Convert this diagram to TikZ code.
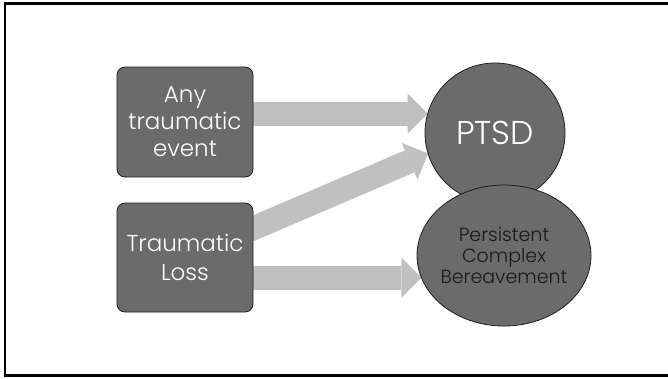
\documentclass[tikz,border=0pt]{standalone}
\usepackage{fontspec}
\setmainfont{Poppins}[UprightFont=* Light]
\usepackage{xcolor}
\usetikzlibrary{arrows.meta, positioning, shapes.geometric, backgrounds}

\definecolor{boxgray}{HTML}{6B6B6B}
\definecolor{arrowgray}{HTML}{C0C0C0}
\definecolor{edgedark}{HTML}{1E1E1E}

\begin{document}
\begin{tikzpicture}[
    x=1pt, y=-1pt,
    node distance=26pt and 0pt,
    every node/.style={outer sep=0pt},
    cause/.style={draw=edgedark, line width=0.8pt, fill=boxgray, rounded corners=8pt, align=center,
      minimum width=136pt, minimum height=110pt, inner sep=0pt, text=white,
      font=\fontsize{23}{27}\selectfont},
    ptsdcirc/.style={circle, draw=edgedark, line width=0.8pt, fill=boxgray, minimum size=140pt,
      inner sep=0pt, text=white, font=\fontsize{33}{36}\selectfont},
    grief/.style={ellipse, draw=edgedark, line width=0.8pt, fill=boxgray, minimum width=174pt,
      minimum height=141pt, inner xsep=-3pt, inner ysep=0pt, align=center, text=black!90,
      font=\fontsize{19}{21}\selectfont},
    blockarrow/.style={draw=arrowgray, line width=24pt,
      -{Triangle[length=20pt, width=40pt, line width=0pt]}}
  ]
    \useasboundingbox (0,0) rectangle (668,378);
    \draw[line width=2.5pt] (668,3.7) -| (5,375.5) -- (668,375.5);

    \node[cause] (anyevent) at (185,122) {Any\\traumatic\\event};
    \node[cause, below=of anyevent, minimum height=109pt, font=\fontsize{23}{29}\selectfont] (loss) {Traumatic\\Loss};
    \node[ptsdcirc] (ptsd) at (495,133) {PTSD};
    \node[grief] (pcb) at (504,255.5) {Persistent\\Complex\\Bereavement};

    \begin{pgfonlayer}{background}
      \draw[blockarrow] (anyevent.center |- ptsd.164) -- (ptsd.164);
      \draw[blockarrow] (loss.center) -- (ptsd.197);
      \draw[blockarrow] (loss.center |- pcb.195) -- (pcb.195);
    \end{pgfonlayer}
  \end{tikzpicture}
\end{document}
